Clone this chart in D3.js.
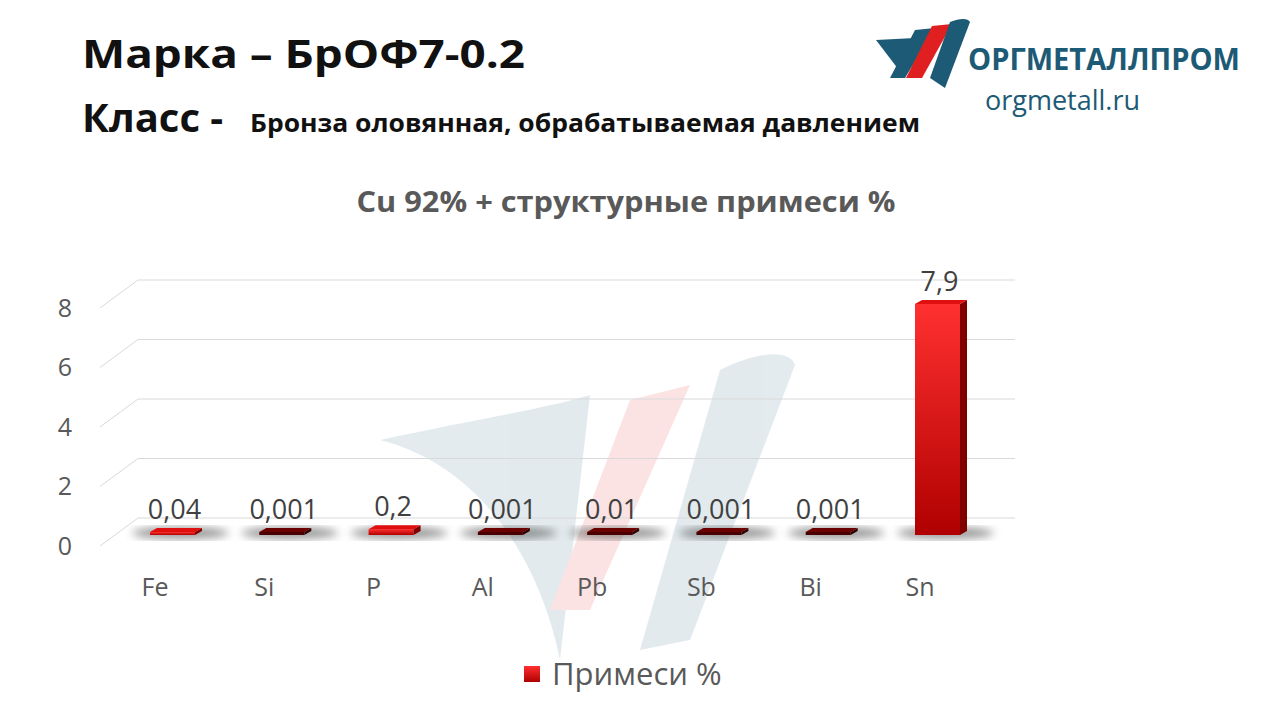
<!DOCTYPE html>
<html><head><meta charset="utf-8">
<script src="https://cdn.jsdelivr.net/npm/d3@7"></script>
<style>body{margin:0;background:#fff}svg{font-family:"Open Sans",Calibri,sans-serif}</style>
</head><body><svg id="c" width="1280" height="720"></svg>
<script>
// данные
var elements = ["Fe","Si","P","Al","Pb","Sb","Bi","Sn"];
var values = [0.04,0.001,0.2,0.001,0.01,0.001,0.001,7.9];
var labels = ["0,04","0,001","0,2","0,001","0,01","0,001","0,001","7,9"];
var ticks = [0,2,4,6,8];

var svg = d3.select("#c");
var defs = svg.append("defs");
var g1 = defs.append("linearGradient").attr("id","bf").attr("x1",0).attr("x2",0).attr("y1",0).attr("y2",1);
g1.append("stop").attr("offset",0).attr("stop-color","#ff3030");
g1.append("stop").attr("offset",1).attr("stop-color","#b00000");
defs.append("filter").attr("id","bl").append("feGaussianBlur").attr("stdDeviation",4);

// водяной знак
var wm = svg.append("g").attr("opacity",0.12);
wm.append("path").attr("d","M380,440 C470,420 540,410 590,395 L560,660 C540,560 480,465 380,440Z").attr("fill","#1d5a75");
wm.append("path").attr("d","M630,400 L690,385 L590,610 L550,610Z").attr("fill","#e02020");
wm.append("path").attr("d","M720,370 C760,350 790,350 795,365 L690,640 L640,650Z").attr("fill","#1d5a75");

// заголовки
svg.append("text").attr("x",82).attr("y",68).attr("font-size",40).attr("font-weight","bold").attr("fill","#111")
  .attr("textLength",443).attr("lengthAdjust","spacingAndGlyphs").text("Марка  – БрОФ7-0.2");
var k = svg.append("text").attr("x",82).attr("y",132).attr("fill","#111").attr("font-weight","bold");
k.append("tspan").attr("font-size",40).text("Класс - ");
k.append("tspan").attr("x",250).attr("font-size",25).attr("textLength",670).attr("lengthAdjust","spacingAndGlyphs").text("Бронза оловянная, обрабатываемая давлением");
svg.append("text").attr("x",626).attr("y",212).attr("text-anchor","middle").attr("font-size",28).attr("font-weight","bold").attr("fill","#595959")
  .attr("textLength",539).attr("lengthAdjust","spacingAndGlyphs").text("Cu 92% + структурные примеси %");

// логотип
var lg = svg.append("g");
lg.append("path").attr("d","M876,40 L915,38 L905,78 Z").attr("fill","#1d5a75");
lg.append("path").attr("d","M915,30 L935,28 L905,78 L890,78Z").attr("fill","#1d5a75");
lg.append("path").attr("d","M932,26 L952,24 L922,78 L906,78Z").attr("fill","#e02020");
lg.append("path").attr("d","M950,22 C960,18 968,18 970,22 L945,88 L930,78Z").attr("fill","#1d5a75");
lg.append("text").attr("x",968).attr("y",70).attr("font-size",31).attr("font-weight","bold").attr("fill","#1d5a75")
  .attr("textLength",272).attr("lengthAdjust","spacingAndGlyphs").text("ОРГМЕТАЛЛПРОМ");
lg.append("text").attr("x",985).attr("y",110).attr("font-size",27).attr("fill","#1d5a75").text("orgmetall.ru");

// оси
var dx = 38, dy = -28;
var yF = d3.scaleLinear().domain([0,8]).range([546,308]);
var x = d3.scalePoint().domain(elements).range([155,920]);
var grid = svg.append("g").attr("stroke","#d9d9d9").attr("fill","none");
ticks.forEach(function(t){
  var y = yF(t);
  grid.append("path").attr("d","M100,"+y+" L"+(100+dx)+","+(y+dy)+" L1015,"+(y+dy));
});
svg.append("g").selectAll("text").data(ticks).join("text")
  .attr("x",72).attr("y",function(d){return yF(d);}).attr("dy","0.35em").attr("text-anchor","end")
  .attr("font-size",25).attr("fill","#595959").text(function(d){return d;});
svg.append("g").selectAll("text").data(elements).join("text")
  .attr("x",function(d){return x(d);}).attr("y",596).attr("text-anchor","middle")
  .attr("font-size",25).attr("fill","#595959").text(function(d){return d;});

// столбцы (в середине глубины)
var bx = 14, by = -8;
var yB = d3.scaleLinear().domain([0,8]).range([535,298+0.1*29.6]);
var bars = svg.append("g");
elements.forEach(function(e,i){
  var x0 = x(e)-5, w = 45, y0 = yB(0), y1 = Math.min(yB(values[i]), y0-3);
  bars.append("ellipse").attr("cx",x0+w/2+8).attr("cy",y0-2).attr("rx",w/2+26).attr("ry",6).attr("fill","#444").attr("opacity",0.55).attr("filter","url(#bl)");
  var small = values[i] < 0.03;
  bars.append("rect").attr("x",x0).attr("y",y1).attr("width",w).attr("height",y0-y1).attr("fill",small?"#4a0000":"url(#bf)");
  bars.append("path").attr("d","M"+(x0+w)+","+y1+" l"+bx/2+","+by/2+" L"+(x0+w+bx/2)+","+(y0+by/2)+" L"+(x0+w)+","+y0+"Z").attr("fill",small?"#300000":"#800000");
  bars.append("path").attr("d","M"+x0+","+y1+" l"+bx/2+","+by/2+" l"+w+",0 l"+(-bx/2)+","+(-by/2)+"Z").attr("fill",small?"#6a0000":"#e01010");
  bars.append("text").attr("x",x0+w/2+2).attr("y",y1-13).attr("text-anchor","middle").attr("font-size",27).attr("fill","#404040").text(labels[i]);
});

// легенда
svg.append("rect").attr("x",524).attr("y",666).attr("width",16).attr("height",16).attr("fill","url(#bf)");
svg.append("text").attr("x",552).attr("y",685).attr("font-size",31).attr("fill","#595959").text("Примеси %");
</script></body></html>
